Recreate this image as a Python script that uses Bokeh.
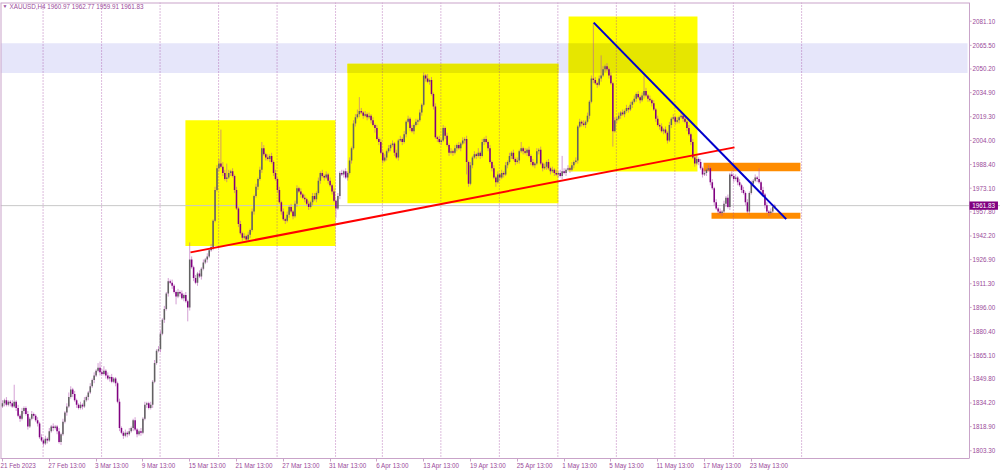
from bokeh.plotting import figure
from bokeh.models import FixedTicker, Range1d, Label, PrintfTickFormatter, Span, BoxAnnotation, ColumnDataSource
from bokeh.embed import file_html
from bokeh.resources import INLINE

# ---------------- data (XAUUSD H4) ----------------
first_open = 1832.0
closes = [
    1834, 1836, 1833, 1835, 1834, 1832, 1835, 1831, 1826, 1824,
    1829, 1831, 1827, 1819, 1824, 1827, 1826, 1823, 1821, 1812,
    1810, 1808, 1811, 1810, 1816, 1819, 1818, 1819, 1816, 1809,
    1814, 1822, 1828, 1832, 1838, 1843, 1840, 1836, 1833, 1831,
    1833, 1832, 1836, 1838, 1841, 1845, 1849, 1852, 1855, 1857,
    1854, 1853, 1855, 1852, 1850, 1851, 1848, 1850, 1847, 1835,
    1818, 1815, 1813, 1815, 1814, 1816, 1818, 1823, 1817, 1814,
    1816, 1815, 1824, 1833, 1834, 1831, 1833, 1848, 1860, 1868,
    1869, 1879, 1888, 1895, 1905, 1913, 1912, 1910, 1906, 1903,
    1906, 1905, 1902, 1904, 1900, 1896, 1927, 1922, 1915, 1912,
    1918, 1916, 1921, 1925, 1927, 1929, 1933, 1935, 1952, 1972,
    1986, 1989, 1987, 1983, 1979, 1980, 1983, 1984, 1981, 1972,
    1960, 1950, 1944, 1941, 1942, 1940, 1943, 1946, 1958, 1968,
    1974, 1979, 1985, 1999, 1995, 1993, 1992, 1994, 1990, 1983,
    1979, 1972, 1964, 1958, 1953, 1952, 1956, 1961, 1958, 1955,
    1963, 1973, 1971, 1969, 1967, 1966, 1963, 1961, 1964, 1968,
    1966, 1970, 1978, 1983, 1981, 1980, 1982, 1978, 1975, 1971,
    1965, 1960, 1968, 1983, 1982, 1984, 1980, 1983, 1991, 1999,
    2015, 2019, 2021, 2023, 2022, 2020, 2021, 2019, 2020, 2017,
    2014, 2012, 2005, 2003, 1996, 1991, 1993, 1997, 1999, 2001,
    2002, 1996, 1993, 2004, 2005, 2003, 2008, 2016, 2018, 2012,
    2010, 2014, 2016, 2017, 2022, 2027, 2046, 2044, 2042, 2043,
    2034, 2026, 2006, 2005, 2003, 2004, 2012, 2007, 2001, 1996,
    1997, 1996, 1999, 2001, 1999, 2002, 2004, 2005, 1990, 1976,
    1988, 1993, 1995, 1994, 1996, 1994, 2003, 2005, 2003, 1999,
    1990, 1986, 1980, 1977, 1982, 1980, 1983, 1982, 1988, 1990,
    1994, 1996, 1992, 1990, 1991, 1997, 1999, 1997, 1996, 1998,
    1994, 1990, 1988, 1989, 1997, 1998, 1989, 1986, 1987, 1990,
    1986, 1984, 1985, 1983, 1982, 1983, 1981, 1984, 1983, 1985,
    1986, 1985, 1988, 1990, 1991, 2013, 2016, 2015, 2014, 2016,
    2020, 2029, 2044, 2043, 2041, 2040, 2044, 2046, 2050, 2052,
    2050, 2046, 2041, 2010, 2017, 2018, 2020, 2022, 2021, 2023,
    2025, 2024, 2027, 2029, 2031, 2034, 2032, 2030, 2033, 2036,
    2033, 2031, 2030, 2028, 2024, 2018, 2014, 2013, 2010, 2011,
    2009, 2004, 2014, 2018, 2019, 2016, 2017, 2019, 2020, 2018,
    2016, 2012, 2008, 2003, 1993, 1989, 1992, 1990, 1986, 1982,
    1983, 1985, 1986, 1977, 1973, 1964, 1960, 1958, 1957, 1958,
    1963, 1967, 1961, 1982, 1981, 1979, 1980, 1977, 1975, 1972,
    1970, 1964, 1958, 1970, 1976, 1978, 1980, 1979, 1977, 1972,
    1969, 1962, 1958, 1957, 1958, 1960.97, 1961.83,
]
wick_up = [
    2, 1, 2, 1, 1, 2, 11, 1, 2, 1,
    2, 1, 1, 2, 1, 2, 1, 1, 2, 1,
    2, 1, 2, 1, 2, 1, 2, 1, 1, 2,
    1, 2, 1, 2, 3, 2, 1, 2, 1, 1,
    2, 1, 2, 1, 1, 2, 1, 2, 1, 3,
    4, 2, 3, 1, 2, 1, 2, 1, 1, 1,
    2, 1, 1, 2, 1, 2, 1, 1, 2, 1,
    1, 2, 1, 2, 1, 1, 2, 1, 2, 1,
    2, 2, 1, 2, 1, 2, 1, 2, 1, 1,
    2, 1, 2, 1, 2, 1, 11, 2, 1, 2,
    1, 2, 1, 2, 1, 2, 1, 2, 1, 2,
    2, 3, 22, 3, 2, 9, 2, 1, 2, 1,
    2, 1, 2, 1, 2, 1, 2, 1, 2, 1,
    2, 1, 2, 4, 2, 1, 2, 1, 2, 1,
    2, 1, 2, 1, 2, 1, 2, 1, 2, 1,
    2, 2, 1, 2, 1, 2, 1, 2, 1, 2,
    2, 1, 2, 1, 2, 1, 2, 1, 2, 1,
    2, 1, 2, 1, 2, 1, 2, 1, 2, 1,
    2, 2, 3, 9, 2, 1, 2, 1, 2, 1,
    2, 1, 2, 1, 2, 1, 2, 1, 2, 1,
    2, 1, 2, 1, 2, 1, 2, 1, 2, 1,
    2, 1, 2, 1, 2, 1, 2, 1, 3, 1,
    2, 1, 2, 1, 2, 1, 2, 1, 2, 1,
    2, 1, 2, 1, 2, 1, 2, 1, 2, 1,
    2, 1, 2, 1, 3, 1, 2, 1, 2, 1,
    2, 1, 2, 1, 2, 1, 2, 1, 2, 1,
    2, 1, 2, 1, 2, 1, 4, 1, 2, 1,
    2, 1, 2, 1, 2, 1, 2, 1, 2, 1,
    2, 1, 2, 1, 2, 1, 2, 10, 2, 1,
    2, 1, 2, 1, 2, 1, 2, 1, 2, 1,
    2, 1, 2, 36.2, 2, 1, 2, 13, 2, 1,
    2, 1, 2, 1, 2, 1, 2, 1, 2, 1,
    2, 1, 2, 1, 2, 1, 2, 1, 2, 10,
    2, 1, 2, 1, 2, 1, 2, 1, 2, 1,
    2, 1, 2, 1, 2, 1, 2, 1, 2, 1,
    2, 1, 2, 1, 2, 1, 2, 1, 2, 1,
    2, 1, 2, 1, 2, 1, 2, 1, 2, 1,
    2, 1, 2, 1, 2, 1, 2, 1, 2, 1,
    2, 1, 2, 1, 2, 1, 2, 1, 7, 1,
    2, 1, 2, 1, 2, 1, 0.94,
]
wick_dn = [
    1, 2, 1, 1, 2, 1, 1, 2, 1, 2,
    1, 2, 1, 2, 1, 1, 2, 1, 2, 1,
    1, 2, 1, 2, 1, 1, 2, 1, 2, 1,
    2, 1, 1, 2, 1, 1, 2, 1, 2, 1,
    1, 2, 1, 1, 2, 1, 1, 2, 1, 1,
    2, 1, 1, 2, 1, 2, 1, 1, 2, 1,
    2, 1, 2, 1, 2, 1, 1, 2, 1, 2,
    1, 2, 1, 1, 2, 1, 1, 2, 1, 1,
    1, 2, 1, 2, 1, 2, 1, 2, 1, 5,
    1, 2, 1, 2, 1, 9, 2, 1, 2, 1,
    2, 1, 2, 1, 1, 2, 1, 1, 2, 1,
    1, 2, 1, 2, 1, 2, 1, 2, 1, 2,
    1, 2, 1, 2, 1, 2, 1, 2, 1, 2,
    1, 2, 1, 2, 1, 2, 1, 2, 1, 2,
    1, 2, 1, 2, 1, 2, 1, 2, 1, 2,
    1, 2, 1, 2, 1, 2, 1, 2, 1, 2,
    1, 2, 1, 2, 1, 2, 1, 2, 1, 2,
    1, 6, 1, 2, 1, 2, 1, 2, 1, 2,
    1, 2, 1, 2, 1, 2, 1, 2, 1, 2,
    1, 3, 1, 2, 1, 2, 1, 2, 1, 2,
    1, 2, 1, 2, 1, 2, 1, 2, 1, 2,
    1, 2, 1, 2, 1, 2, 1, 2, 1, 2,
    1, 2, 1, 2, 1, 2, 1, 2, 1, 2,
    1, 2, 1, 2, 1, 2, 1, 2, 8, 2,
    1, 2, 1, 2, 1, 2, 1, 2, 1, 2,
    1, 2, 1, 3, 1, 2, 1, 2, 1, 2,
    1, 2, 1, 2, 1, 2, 1, 2, 1, 2,
    1, 2, 1, 2, 1, 2, 1, 2, 1, 2,
    1, 2, 1, 2, 1, 2, 1, 2, 1, 2,
    1, 2, 1, 2, 1, 2, 1, 2, 1, 2,
    1, 2, 1, 2, 1, 2, 1, 2, 1, 2,
    1, 2, 1, 10, 1, 2, 1, 2, 1, 2,
    1, 2, 1, 2, 1, 2, 1, 2, 1, 2,
    1, 2, 1, 2, 1, 2, 1, 2, 1, 2,
    1, 2, 1, 2, 1, 2, 1, 2, 1, 2,
    1, 2, 1, 2, 1, 2, 1, 2, 1, 2,
    1, 2, 1, 2, 1, 2, 1, 2, 1, 2,
    1, 2, 1, 2, 1, 2, 1, 2, 1, 2,
    1, 2, 1, 2, 1, 2, 1, 2, 1, 2,
    1, 2, 1, 2, 1, 1, 1.06,
]

price_ticks = [1803.30, 1818.90, 1834.20, 1849.80, 1865.10, 1880.40, 1896.00, 1911.30, 1926.90,
               1942.20, 1957.80, 1973.10, 1988.40, 2004.00, 2019.30, 2034.90, 2050.20, 2065.50, 2081.10]
date_tick_bars = [0, 24, 48, 72, 96, 120, 144, 168, 192, 216, 240, 264, 288, 312, 336, 360, 384]
date_tick_labels = ["21 Feb 2023", "27 Feb 13:00", "3 Mar 13:00", "9 Mar 13:00", "15 Mar 13:00",
                    "21 Mar 13:00", "27 Mar 13:00", "31 Mar 13:00", "6 Apr 13:00", "13 Apr 13:00",
                    "19 Apr 13:00", "25 Apr 13:00", "1 May 13:00", "5 May 13:00", "11 May 13:00",
                    "17 May 13:00", "23 May 13:00"]
week_start_bars = [21, 51, 81, 111, 141, 171, 195, 225, 255, 285, 315, 345, 375, 410]
last_price = 1961.83
header_text = "XAUUSD,H4 1960.97 1962.77 1959.91 1961.83"

# drawn objects (bar index, price)
zone_band = (2047.6, 2066.9)
yellow_left = [93.8, 176.9, 290.3]
yellow_right = [170.8, 285.1, 356.4]
yellow_top = [2017.1, 2053.6, 2084.1]
yellow_bottom = [1935.8, 1963.3, 1983.9]
orange_left = [359.5, 363.6]
orange_right = [409.2, 409.2]
orange_top = [1989.5, 1957.3]
orange_bottom = [1984.0, 1953.4]
red_line = ([96.4, 375.4], [1931.6, 1999.5])
blue_line = ([303.2, 401.9], [2080.2, 1953.1])

# ---------------- styles / geometry ----------------
FRAME = "#C9A3C9"
TEXT = "#9A4A9A"
BULL = "#626262"
BEAR = "#800080"
WICK = "#B050B0"
FONT = "Liberation Sans"
FS = "6.3px"
X_START, X_AXIS, X_END = -1.03, 495.9, 511.8     # left edge, price-scale line, canvas edge (bar units)
Y_LO, Y_HI = 1798.3, 2093.2

n = len(closes)
opens = [first_open] + closes[:-1]
highs = [max(o, c) + w for o, c, w in zip(opens, closes, wick_up)]
lows = [min(o, c) - w for o, c, w in zip(opens, closes, wick_dn)]
body_bot = [min(o, c) for o, c in zip(opens, closes)]
body_top = [max(max(o, c), b + 0.7) for o, c, b in zip(opens, closes, body_bot)]
colors = [BULL if c >= o else BEAR for o, c in zip(opens, closes)]

src = ColumnDataSource(dict(bar=list(range(n)), high=highs, low=lows,
                            top=body_top, bottom=body_bot, color=colors))

p = figure(width=1000, height=471, x_range=Range1d(X_START, X_END), y_range=Range1d(Y_LO, Y_HI),
           toolbar_location=None, output_backend="svg", y_axis_location="right",
           min_border_left=0, min_border_right=0, min_border_top=2, min_border_bottom=12)
p.grid.visible = False
p.outline_line_color = None
p.background_fill_color = "white"
p.border_fill_color = "white"

# background objects
p.add_layout(BoxAnnotation(bottom=zone_band[0], top=zone_band[1], right=X_AXIS - 1, fill_color="#E6E6FA",
                           fill_alpha=1, line_color=None, level="underlay"))
for l, r, t, b in zip(yellow_left, yellow_right, yellow_top, yellow_bottom):
    p.add_layout(BoxAnnotation(left=l, right=r, top=t, bottom=b, fill_color="#FFFF00", fill_alpha=1,
                               line_color=None, level="underlay"))
    ot, ob = min(t, zone_band[1]), max(b, zone_band[0])
    if ot > ob:
        p.add_layout(BoxAnnotation(left=l, right=r, top=ot, bottom=ob, fill_color="#E6E600", fill_alpha=1,
                                   line_color=None, level="underlay"))
for l, r, t, b in zip(orange_left, orange_right, orange_top, orange_bottom):
    p.add_layout(BoxAnnotation(left=l, right=r, top=t, bottom=b, fill_color="#FF8C00", fill_alpha=1,
                               line_color=None, level="underlay"))
for w in week_start_bars:
    p.add_layout(Span(location=w - 0.2, dimension="height", line_color="#A040A0", line_alpha=0.7,
                      line_width=1, line_dash="1 2", level="underlay"))
p.add_layout(Span(location=last_price, dimension="width", line_color="#C8C8C8", line_width=1, level="underlay"))

# chart frame (left, top) and price-scale line
p.segment(x0=[X_START], y0=[Y_LO], x1=[X_START], y1=[Y_HI], line_color=FRAME, line_width=2)
p.segment(x0=[X_START], y0=[Y_HI], x1=[X_AXIS], y1=[Y_HI], line_color=FRAME, line_width=2)
p.add_layout(Span(location=X_AXIS, dimension="height", line_color=FRAME, line_width=1))
p.segment(x0=[X_AXIS] * len(price_ticks), y0=price_ticks, x1=[X_AXIS + 1.1] * len(price_ticks),
          y1=price_ticks, line_color=FRAME, line_width=1)

# candles
p.segment(x0="bar", y0="high", x1="bar", y1="low", source=src, line_color=WICK, line_alpha=0.55, line_width=1)
p.vbar(x="bar", top="top", bottom="bottom", width=0.8, source=src, fill_color="color", line_color=None)

# trend lines
p.line(red_line[0], red_line[1], line_color="#FF0000", line_width=2)
p.line(blue_line[0], blue_line[1], line_color="#0000CD", line_width=2)

# price axis (labels drawn just right of the price-scale line)
ya = p.yaxis[0]
ya.ticker = FixedTicker(ticks=price_ticks)
ya.formatter = PrintfTickFormatter(format="%.2f")
ya.axis_line_color = None
ya.major_tick_line_color = None
ya.minor_tick_line_color = None
ya.major_tick_in = 0
ya.major_tick_out = 0
ya.minor_tick_in = 0
ya.minor_tick_out = 0
ya.major_label_standoff = -28
ya.major_label_text_font = FONT
ya.major_label_text_font_size = FS
ya.major_label_text_color = TEXT

# time axis
xa = p.xaxis[0]
centers = [round(b + len(t) * 0.72) for b, t in zip(date_tick_bars, date_tick_labels)]
xa.ticker = FixedTicker(ticks=centers, minor_ticks=date_tick_bars)
xa.major_label_overrides = {c: t for c, t in zip(centers, date_tick_labels)}
xa.bounds = (X_START, X_AXIS)
xa.axis_line_color = FRAME
xa.major_tick_line_color = None
xa.major_tick_in = 0
xa.major_tick_out = 3
xa.minor_tick_line_color = FRAME
xa.minor_tick_in = 0
xa.minor_tick_out = 3
xa.major_label_standoff = 0
xa.major_label_text_font = FONT
xa.major_label_text_font_size = FS
xa.major_label_text_color = TEXT

# header and last-price tag
p.add_layout(Label(x=2, y=2090.8, x_units="screen", text="\u25BC", text_font=FONT,
                   text_font_size="5px", text_color=TEXT, text_baseline="middle"))
p.add_layout(Label(x=9, y=2090.8, x_units="screen", text=header_text, text_font=FONT,
                   text_font_size=FS, text_color=TEXT, text_baseline="middle"))
p.add_layout(BoxAnnotation(left=X_AXIS, right=X_AXIS + 14.6, top=last_price + 2.6, bottom=last_price - 2.6,
                           fill_color="#800080", fill_alpha=1, line_color=None, level="overlay"))
p.add_layout(Label(x=X_AXIS + 1.4, y=last_price, text="%.2f" % last_price, text_font=FONT,
                   text_font_size=FS, text_color="white", text_baseline="middle", level="overlay"))

open("out.html", "w").write(file_html(p, INLINE))
